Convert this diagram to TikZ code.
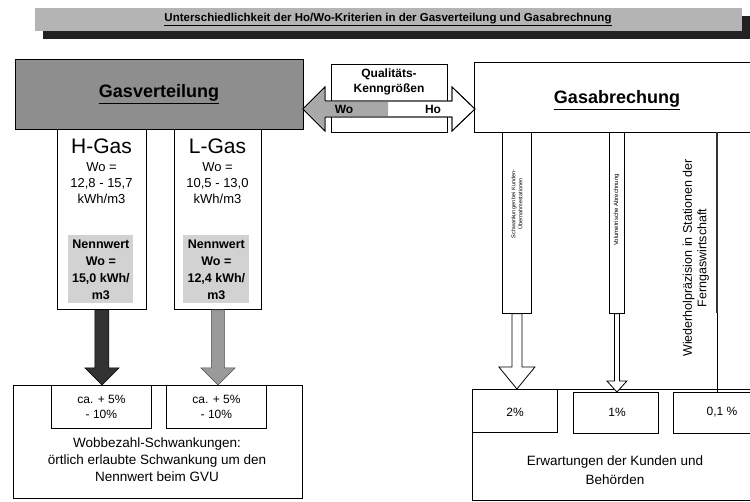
\documentclass[tikz,border=0pt]{standalone}
\usepackage{fontspec}
\setmainfont{Liberation Sans}
\usetikzlibrary{calc}
\definecolor{titlegray}{HTML}{B4B4B4}
\definecolor{shadowgray}{HTML}{222222}
\definecolor{headgray}{HTML}{8E8E8E}
\definecolor{nenngray}{HTML}{D2D2D2}
\definecolor{darkarrow}{HTML}{333333}
\definecolor{lightarrow}{HTML}{9A9A9A}
\definecolor{wogray}{HTML}{A8A8A8}
\begin{document}
\begin{tikzpicture}[x=1pt,y=-1pt,
  box/.style={draw=black, line width=0.8pt, fill=white, inner sep=0pt, anchor=north west},
  plain/.style={inner sep=0pt, align=center},
  f10b/.style={font=\fontsize{11.5}{13}\selectfont\bfseries},
  f16b/.style={font=\fontsize{18}{21}\selectfont\bfseries},
  f19/.style={font=\fontsize{21}{24}\selectfont},
  f13/.style={font=\fontsize{13}{16}\selectfont},
  f12b/.style={font=\fontsize{12.5}{17}\selectfont\bfseries},
  fqual/.style={font=\fontsize{12}{15}\selectfont\bfseries},
  f11/.style={font=\fontsize{12}{15}\selectfont},
  fbig/.style={font=\fontsize{13.5}{17}\selectfont},
  fvert/.style={font=\fontsize{12.5}{14.5}\selectfont},
  ftiny/.style={font=\fontsize{5.5}{7}\selectfont},
  fsmall/.style={font=\fontsize{6}{7}\selectfont}
]
\useasboundingbox (0,0) rectangle (750,502);
\clip (0,0) rectangle (750,502);
\fill[white] (0,0) rectangle (750,502);

% Title banner
\node[fill=shadowgray, inner sep=0pt, minimum width=707pt, minimum height=23pt, anchor=north west] (tshadow) at (43,16) {};
\node[fill=titlegray, inner sep=0pt, minimum width=707pt, minimum height=23pt, anchor=north west] (tband) at (35,8) {};
\node[plain, f10b] (title) at (388,19.5) {\underline{Unterschiedlichkeit der Ho/Wo-Kriterien in der Gasverteilung und Gasabrechnung}};

% Gasverteilung
\node[box, fill=headgray, minimum width=288pt, minimum height=70pt] (gv) at (15,59) {};
\node[plain, f16b] (gvtext) at (159,94) {\underline{Gasverteilung}};

% Gasabrechung
\node[box, minimum width=300pt, minimum height=70pt] (ga) at (474,62) {};
\node[plain, f16b] (gatext) at (617,100) {\underline{Gasabrechung}};

% Qualitaets-Kenngroessen
\node[box, minimum width=116pt, minimum height=68pt] (qk) at (331,64) {};
\node[plain, fqual] (qktext) at (389,82) {Qualitäts-\\Kenngrößen};

% double arrow
\draw[line width=0.8pt, fill=white] (303,109) -- (325,87) -- (325,101) -- (452,101) -- (452,87) -- (475,109) -- (452,131) -- (452,117) -- (325,117) -- (325,131) -- cycle;
\fill[wogray] (304.5,109) -- (324.2,89.5) -- (324.2,101.8) -- (388,101.8) -- (388,116.2) -- (324.2,116.2) -- (324.2,128.5) -- cycle;
\draw[line width=0.8pt] (303,109) -- (325,87) -- (325,101) -- (452,101) -- (452,87) -- (475,109) -- (452,131) -- (452,117) -- (325,117) -- (325,131) -- cycle;
\node[plain, fqual] (wo) at (344,109) {Wo};
\node[plain, fqual] (ho) at (433,109) {Ho};

% H-Gas and L-Gas columns
\node[box, minimum width=89pt, minimum height=180pt] (hgas) at (57,129) {};
\node[box, minimum width=87pt, minimum height=180pt] (lgas) at (174,129) {};
\node[plain, f19] (hgt) at (101.5,146) {H-Gas};
\node[plain, f19] (lgt) at (217.5,146) {L-Gas};
\node[plain, f13] (hwo) at (101.5,183) {Wo =\\12,8 - 15,7\\kWh/m3};
\node[plain, f13] (lwo) at (217.5,183) {Wo =\\10,5 - 13,0\\kWh/m3};
\node[box, draw=none, fill=nenngray, minimum width=65pt, minimum height=68pt] (hnenn) at (68,235) {};
\node[box, draw=none, fill=nenngray, minimum width=66pt, minimum height=68pt] (lnenn) at (183,235) {};
\node[plain, f12b] (hnt) at (hnenn.center) {Nennwert\\Wo =\\15,0 kWh/\\m3};
\node[plain, f12b] (lnt) at (lnenn.center) {Nennwert\\Wo =\\12,4 kWh/\\m3};

% bottom left box
\node[box, minimum width=289pt, minimum height=113pt] (wob) at (13,385) {};
\node[box, minimum width=100pt, minimum height=43pt] (hca) at (51,385) {};
\node[box, minimum width=100pt, minimum height=43pt] (lca) at (166,385) {};
\node[plain, f11] (hcat) at (hca.center) {ca. + 5\%\\- 10\%};
\node[plain, f11] (lcat) at (lca.center) {ca. + 5\%\\- 10\%};
\node[plain, fbig] (wobt) at (157,460) {Wobbezahl-Schwankungen:\\örtlich erlaubte Schwankung um den\\Nennwert beim GVU};

% down arrows
\draw[fill=darkarrow, draw=black, line width=0.5pt]
  ($(hgas.south)+(-7,0)$) -- ($(hgas.south)+(7,0)$) -- ($(hgas.south |- hca.north)+(7,-17)$) -- ($(hgas.south |- hca.north)+(17,-17)$) -- (hgas.south |- hca.north) -- ($(hgas.south |- hca.north)+(-17,-17)$) -- ($(hgas.south |- hca.north)+(-7,-17)$) -- cycle;
\draw[fill=lightarrow, draw=black!70, line width=0.5pt]
  ($(lgas.south)+(-6.5,0)$) -- ($(lgas.south)+(6.5,0)$) -- ($(lgas.south |- lca.north)+(6.5,-17)$) -- ($(lgas.south |- lca.north)+(17,-17)$) -- (lgas.south |- lca.north) -- ($(lgas.south |- lca.north)+(-17,-17)$) -- ($(lgas.south |- lca.north)+(-6.5,-17)$) -- cycle;

% right side columns
\node[box, minimum width=29pt, minimum height=181pt] (sk) at (502,132) {};
\node[plain, ftiny, rotate=90] (skt) at (517,204) {Schwankungen bei Kunden-\\Übernahmestationen};
\node[box, minimum width=15pt, minimum height=181pt] (va) at (609,132) {};
\node[plain, fsmall, rotate=90] (vat) at (616.5,210) {Volumetrische Abrechnung};
\node[plain, fvert, rotate=90] (wpt) at (696,258) {Wiederholpräzision in Stationen der\\Ferngaswirtschaft};
\coordinate (wtop) at (717,132);
\coordinate (wmid) at (717,313);

% bottom right box
\node[box, minimum width=300pt, minimum height=111pt] (erw) at (472,389) {};
\node[box, minimum width=85pt, minimum height=43pt] (p2) at (472,389) {};
\node[box, minimum width=85pt, minimum height=41pt] (p1) at (573,392) {};
\node[box, minimum width=100pt, minimum height=41pt] (p01) at (673,392) {};
\node[plain, f11] (p2t) at (515,412) {2\%};
\node[plain, f11] (p1t) at (617,412) {1\%};
\node[plain, f11] (p01t) at (722,412) {0,1 \%};
\node[plain, fbig, font=\fontsize{13.5}{19}\selectfont] (erwt) at (615,470) {Erwartungen der Kunden und\\Behörden};

% line 3
\draw[line width=2.8pt, draw=black!80] (wtop) -- (wmid);
\draw[line width=0.8pt] (wmid) -- (wmid |- p01.north);

% open arrows
\draw[line width=0.8pt, fill=white]
  ($(sk.south)+(-5,0)$) -- ($(sk.south)+(5,0)$) -- ($(sk.south |- p2.north)+(5,-22)$) -- ($(sk.south |- p2.north)+(18,-22)$) -- (sk.south |- p2.north) -- ($(sk.south |- p2.north)+(-18,-22)$) -- ($(sk.south |- p2.north)+(-5,-22)$) -- cycle;
\draw[line width=0.8pt, fill=white]
  ($(va.south)+(-2.5,0)$) -- ($(va.south)+(2.5,0)$) -- ($(va.south |- p1.north)+(2.5,-11)$) -- ($(va.south |- p1.north)+(10,-11)$) -- (va.south |- p1.north) -- ($(va.south |- p1.north)+(-10,-11)$) -- ($(va.south |- p1.north)+(-2.5,-11)$) -- cycle;
\end{tikzpicture}
\end{document}
